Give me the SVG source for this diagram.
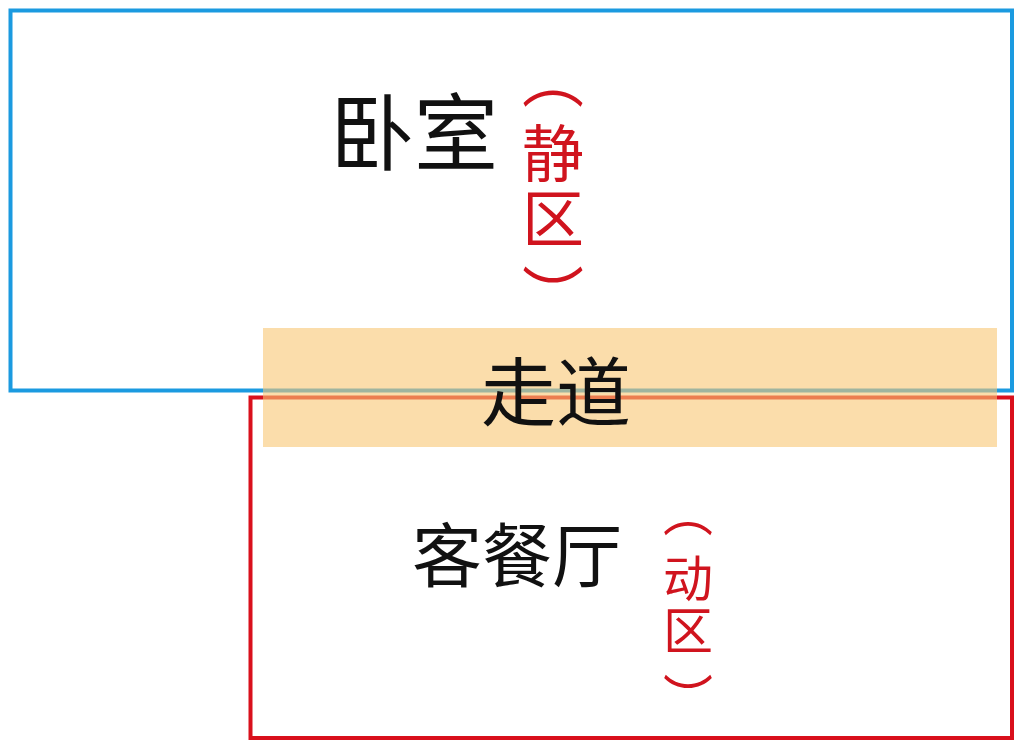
<svg xmlns="http://www.w3.org/2000/svg" width="1026" height="750" viewBox="0 0 1026 750">
<style>
.zh{font-family:"Noto Sans CJK SC","Noto Sans",sans-serif;text-anchor:middle;dominant-baseline:central}
.blk{fill:#111}
.red{fill:#d0141e}
</style>
<rect width="1026" height="750" fill="#ffffff"/>
<g id="bedroom">
<rect x="10.5" y="10.5" width="1001.5" height="380" fill="none" stroke="#1b9ae0" stroke-width="4"/>
<text class="zh blk" x="414" y="127" font-size="84">卧室</text>
</g>
<g id="quiet-label">
<text class="zh red" x="553" y="75" font-size="62">︵</text>
<text class="zh red" x="553" y="150" font-size="62">静</text>
<text class="zh red" x="553" y="215" font-size="62">区</text>
<text class="zh red" x="553" y="292" font-size="62">︶</text>
</g>
<g id="living">
<rect x="250.5" y="397.5" width="761.5" height="340.5" fill="none" stroke="#d9101c" stroke-width="4"/>
<text class="zh blk" x="517" y="551" font-size="70">客餐厅</text>
</g>
<g id="active-label">
<text class="zh red" x="688" y="509" font-size="50">︵</text>
<text class="zh red" x="688" y="575" font-size="50">动</text>
<text class="zh red" x="688" y="627" font-size="50">区</text>
<text class="zh red" x="688" y="695" font-size="50">︶</text>
</g>
<g id="corridor">
<rect x="263" y="328" width="734" height="119" fill="#f8c673" fill-opacity="0.6"/>
<text class="zh blk" x="556" y="387" font-size="75">走道</text>
</g>
<g id="connectors"></g>
</svg>
